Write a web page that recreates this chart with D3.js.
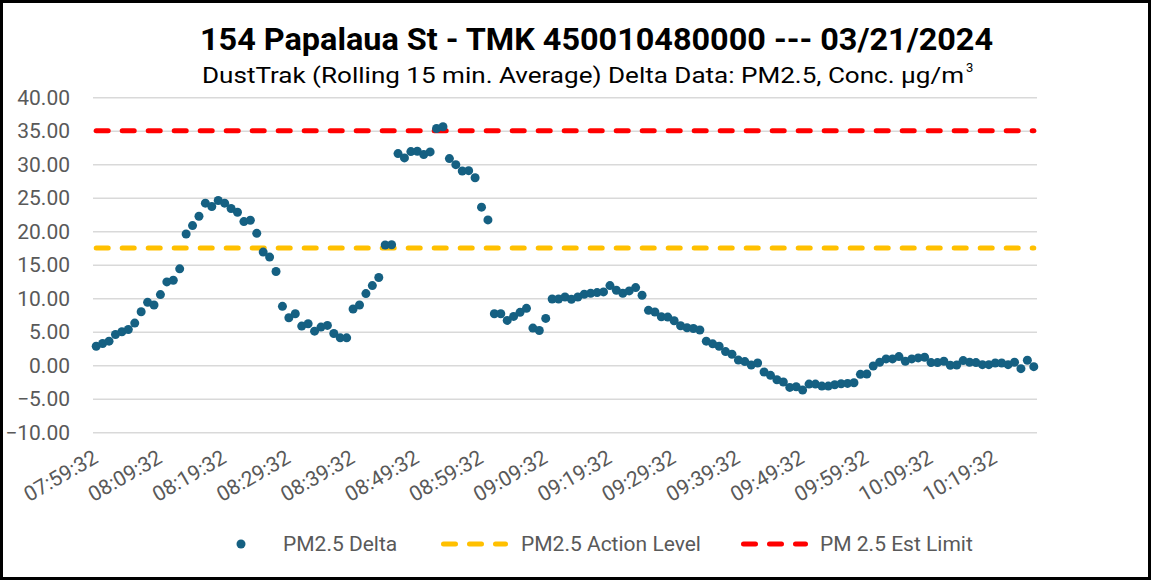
<!DOCTYPE html>
<html>
<head>
<meta charset="utf-8">
<script src="https://cdn.jsdelivr.net/npm/d3@7"></script>
<style>
    body { margin: 0; background: #fff; }
    svg text { font-family: Roboto, "Liberation Sans", sans-serif; }
</style>
</head>
<body>
<div id="chart"></div>
<script>
// one reading per minute, 07:59:32 .. 10:25:32
var times = [
    "07:59:32", "08:00:32", "08:01:32", "08:02:32", "08:03:32", "08:04:32", "08:05:32", "08:06:32", "08:07:32", "08:08:32",
    "08:09:32", "08:10:32", "08:11:32", "08:12:32", "08:13:32", "08:14:32", "08:15:32", "08:16:32", "08:17:32", "08:18:32",
    "08:19:32", "08:20:32", "08:21:32", "08:22:32", "08:23:32", "08:24:32", "08:25:32", "08:26:32", "08:27:32", "08:28:32",
    "08:29:32", "08:30:32", "08:31:32", "08:32:32", "08:33:32", "08:34:32", "08:35:32", "08:36:32", "08:37:32", "08:38:32",
    "08:39:32", "08:40:32", "08:41:32", "08:42:32", "08:43:32", "08:44:32", "08:45:32", "08:46:32", "08:47:32", "08:48:32",
    "08:49:32", "08:50:32", "08:51:32", "08:52:32", "08:53:32", "08:54:32", "08:55:32", "08:56:32", "08:57:32", "08:58:32",
    "08:59:32", "09:00:32", "09:01:32", "09:02:32", "09:03:32", "09:04:32", "09:05:32", "09:06:32", "09:07:32", "09:08:32",
    "09:09:32", "09:10:32", "09:11:32", "09:12:32", "09:13:32", "09:14:32", "09:15:32", "09:16:32", "09:17:32", "09:18:32",
    "09:19:32", "09:20:32", "09:21:32", "09:22:32", "09:23:32", "09:24:32", "09:25:32", "09:26:32", "09:27:32", "09:28:32",
    "09:29:32", "09:30:32", "09:31:32", "09:32:32", "09:33:32", "09:34:32", "09:35:32", "09:36:32", "09:37:32", "09:38:32",
    "09:39:32", "09:40:32", "09:41:32", "09:42:32", "09:43:32", "09:44:32", "09:45:32", "09:46:32", "09:47:32", "09:48:32",
    "09:49:32", "09:50:32", "09:51:32", "09:52:32", "09:53:32", "09:54:32", "09:55:32", "09:56:32", "09:57:32", "09:58:32",
    "09:59:32", "10:00:32", "10:01:32", "10:02:32", "10:03:32", "10:04:32", "10:05:32", "10:06:32", "10:07:32", "10:08:32",
    "10:09:32", "10:10:32", "10:11:32", "10:12:32", "10:13:32", "10:14:32", "10:15:32", "10:16:32", "10:17:32", "10:18:32",
    "10:19:32", "10:20:32", "10:21:32", "10:22:32", "10:23:32", "10:24:32", "10:25:32"
];

var pm25Delta = [
    2.85, 3.25, 3.6, 4.6, 5.0, 5.35, 6.3, 8.0, 9.4, 9.0,
    10.55, 12.45, 12.7, 14.4, 19.6, 20.85, 22.25, 24.2, 23.7, 24.6,
    24.2, 23.4, 22.85, 21.45, 21.65, 19.7, 16.9, 16.15, 14.0, 8.8,
    7.1, 7.7, 5.85, 6.2, 5.1, 5.7, 5.95, 4.75, 4.1, 4.1,
    8.4, 9.0, 10.7, 11.9, 13.1, 17.95, 18.0, 31.6, 30.95, 31.9,
    31.95, 31.45, 31.85, 35.35, 35.6, 30.85, 29.95, 29.0, 29.05, 28.0,
    23.6, 21.7, 7.7, 7.7, 6.7, 7.3, 7.9, 8.5, 5.55, 5.2,
    7.0, 9.9, 9.9, 10.2, 9.85, 10.2, 10.6, 10.75, 10.85, 10.95,
    11.9, 11.2, 10.75, 11.1, 11.6, 10.45, 8.2, 7.95, 7.25, 7.2,
    6.65, 5.9, 5.6, 5.5, 5.27, 3.6, 3.2, 2.85, 2.05, 1.65,
    0.78, 0.55, 0.05, 0.35, -1.0, -1.5, -2.15, -2.5, -3.3, -3.2,
    -3.7, -2.8, -2.8, -3.1, -3.1, -2.9, -2.75, -2.7, -2.6, -1.35,
    -1.3, -0.1, 0.45, 0.95, 0.95, 1.3, 0.6, 0.95, 1.1, 1.2,
    0.4, 0.4, 0.6, 0.0, 0.05, 0.7, 0.45, 0.4, 0.1, 0.1,
    0.35, 0.35, 0.1, 0.45, -0.5, 0.75, -0.2
];

var actionLevel = 17.5;
var estLimit = 35;

var xTickLabels = ["07:59:32", "08:09:32", "08:19:32", "08:29:32", "08:39:32", "08:49:32", "08:59:32", "09:09:32",
    "09:19:32", "09:29:32", "09:39:32", "09:49:32", "09:59:32", "10:09:32", "10:19:32"];
var yTicks = [-10, -5, 0, 5, 10, 15, 20, 25, 30, 35, 40];

var legendItems = [
    {name: "PM2.5 Delta", type: "dot", color: "#156082"},
    {name: "PM2.5 Action Level", type: "dash", color: "#FFC000"},
    {name: "PM 2.5 Est Limit", type: "dash", color: "#FF0000"}
];

var width = 1161, height = 583;
var plotLeft = 93, plotRight = 1037, plotTop = 97.3, plotBottom = 432.3;
var labelColor = "#595959";

var svg = d3.select("#chart").append("svg")
    .attr("width", width)
    .attr("height", height);

svg.append("rect")
    .attr("x", 1.5).attr("y", 1.5)
    .attr("width", 1148).attr("height", 577)
    .attr("fill", "#fff")
    .attr("stroke", "#000")
    .attr("stroke-width", 3);

var x = d3.scalePoint()
    .domain(times)
    .range([plotLeft, plotRight])
    .padding(0.5);

var y = d3.scaleLinear()
    .domain([-10, 40])
    .range([plotBottom, plotTop]);

// gridlines
svg.append("g")
    .attr("transform", "translate(" + plotLeft + ",0)")
    .call(d3.axisLeft(y).tickValues(yTicks).tickSize(-(plotRight - plotLeft)).tickFormat(""))
    .call(function (g) {
        g.select(".domain").remove();
        g.selectAll(".tick line").attr("stroke", "#D9D9D9").attr("stroke-width", 1.5);
    });

// y labels
svg.append("g")
    .attr("transform", "translate(" + plotLeft + ",0)")
    .call(d3.axisLeft(y).tickValues(yTicks).tickSize(0).tickPadding(23).tickFormat(d3.format(".2f")))
    .call(function (g) {
        g.select(".domain").remove();
        g.selectAll("text").attr("fill", labelColor).attr("font-size", 21);
    });

// x labels, rotated
svg.append("g")
    .attr("transform", "translate(0," + plotBottom + ")")
    .call(d3.axisBottom(x).tickValues(xTickLabels).tickSize(0))
    .call(function (g) {
        g.select(".domain").remove();
        g.selectAll("text")
            .attr("fill", labelColor)
            .attr("font-size", 21)
            .attr("text-anchor", "end")
            .attr("y", 0)
            .attr("dy", "0.35em")
            .attr("transform", "translate(-1,23) rotate(-30)");
    });

// threshold lines
var flatLine = d3.line()
    .x(function (d) { return x(d[0]); })
    .y(function (d) { return y(d[1]); });

function drawLevel(value, color) {
    svg.append("path")
        .datum([[times[0], value], [times[times.length - 1], value]])
        .attr("d", flatLine)
        .attr("fill", "none")
        .attr("stroke", color)
        .attr("stroke-width", 5)
        .attr("stroke-linecap", "round")
        .attr("stroke-dasharray", "12,14");
}
drawLevel(actionLevel, "#FFC000");
drawLevel(estLimit, "#FF0000");

// PM2.5 dots
svg.append("g")
    .selectAll("circle")
    .data(pm25Delta)
    .enter()
    .append("circle")
    .attr("cx", function (d, i) { return x(times[i]); })
    .attr("cy", function (d) { return y(d); })
    .attr("r", 4.5)
    .attr("fill", "#156082");

// titles
svg.append("text")
    .attr("x", 200).attr("y", 50)
    .attr("font-size", 32)
    .attr("font-weight", "bold")
    .attr("fill", "#000")
    .attr("textLength", 793)
    .attr("lengthAdjust", "spacingAndGlyphs")
    .text("154 Papalaua St - TMK 450010480000 --- 03/21/2024");

svg.append("text")
    .attr("x", 202).attr("y", 83)
    .attr("font-size", 22)
    .attr("fill", "#000")
    .attr("textLength", 762)
    .attr("lengthAdjust", "spacingAndGlyphs")
    .text("DustTrak (Rolling 15 min. Average) Delta Data: PM2.5, Conc. \u00b5g/m");

svg.append("text")
    .attr("x", 966).attr("y", 72)
    .attr("font-size", 13)
    .attr("fill", "#000")
    .text("3");

// legend
var legendX = [241, 441, 741];
var legendTextX = [283, 521, 820];
var legendY = 544;
var legend = svg.append("g");
legendItems.forEach(function (item, i) {
    if (item.type === "dot") {
        legend.append("circle")
            .attr("cx", legendX[i]).attr("cy", legendY)
            .attr("r", 4.5).attr("fill", item.color);
    } else {
        legend.append("line")
            .attr("x1", legendX[i] + 2.5).attr("x2", legendX[i] + 67 - 2.5)
            .attr("y1", legendY).attr("y2", legendY)
            .attr("stroke", item.color)
            .attr("stroke-width", 5)
            .attr("stroke-linecap", "round")
            .attr("stroke-dasharray", "12,14");
    }
    legend.append("text")
        .attr("x", legendTextX[i]).attr("y", legendY)
        .attr("dy", "0.35em")
        .attr("font-size", 21)
        .attr("fill", labelColor)
        .text(item.name);
});
</script>
</body>
</html>
